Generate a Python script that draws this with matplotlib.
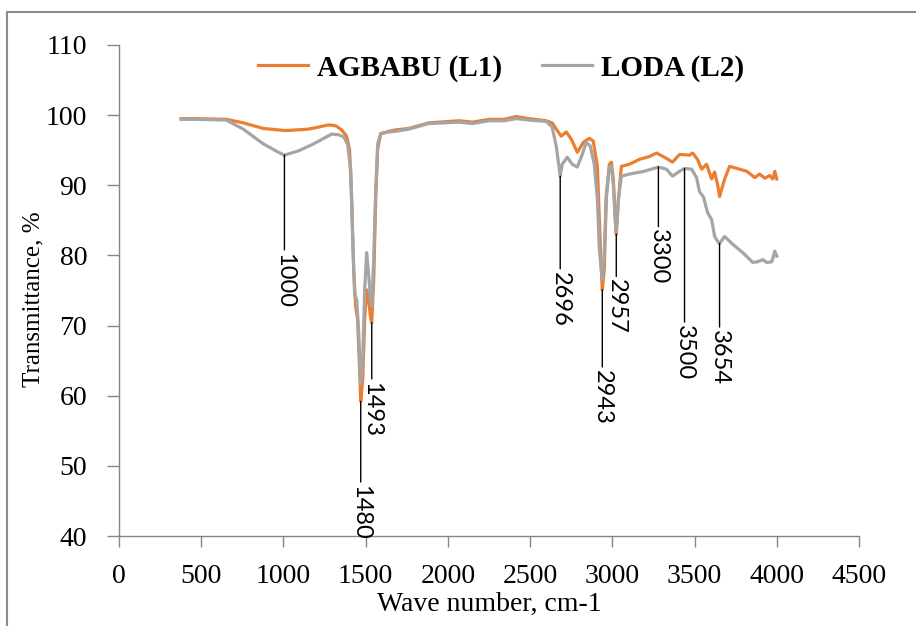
import numpy as np
import matplotlib
matplotlib.use('Agg')
import matplotlib.pyplot as plt
from matplotlib.patches import Rectangle

# FTIR spectra (wave number cm-1, transmittance %)
wave_l1 = [378, 482, 652, 756, 878, 1012, 1152, 1274, 1317, 1354, 1384, 1402, 1415, 1427, 1439,
           1451, 1463, 1470, 1482, 1494, 1506, 1518, 1530, 1537, 1549, 1561, 1573, 1591, 1640,
           1683, 1762, 1884, 2067, 2150, 2250, 2341, 2415, 2494, 2598, 2634, 2659, 2689, 2720,
           2750, 2787, 2823, 2860, 2884, 2909, 2921, 2933, 2939, 2951, 2963, 2982, 2994, 3006,
           3018, 3024, 3037, 3055, 3104, 3165, 3226, 3268, 3317, 3366, 3409, 3470, 3488, 3518,
           3543, 3573, 3604, 3622, 3640, 3652, 3683, 3713, 3774, 3817, 3866, 3896, 3927, 3957,
           3976, 3988, 4000]
trans_l1 = [99.5, 99.5, 99.4, 98.9, 98.1, 97.8, 98.0, 98.6, 98.5, 97.9, 97.0, 95.1, 88.0, 78.0, 72.7,
            70.9, 63.7, 59.2, 62.3, 70.9, 75.1, 73.7, 71.1, 70.4, 76.6, 88.0, 95.1, 97.3, 97.7,
            97.9, 98.1, 98.9, 99.2, 99.0, 99.4, 99.4, 99.8, 99.5, 99.2, 98.9, 98.0, 97.0, 97.6,
            96.6, 94.7, 96.1, 96.7, 96.3, 92.7, 85.1, 78.0, 75.1, 78.0, 88.0, 93.0, 93.3, 90.9,
            85.1, 83.0, 88.0, 92.7, 93.0, 93.7, 94.1, 94.6, 94.0, 93.3, 94.4, 94.3, 94.6, 93.7,
            92.3, 93.0, 90.9, 91.9, 90.1, 88.4, 90.9, 92.7, 92.3, 92.0, 91.1, 91.6, 91.0, 91.4,
            90.9, 92.0, 90.9]

wave_l2 = [378, 482, 652, 756, 878, 970, 1006, 1091, 1183, 1293, 1335, 1366, 1390, 1409, 1421,
           1433, 1445, 1457, 1470, 1482, 1494, 1506, 1518, 1530, 1537, 1549, 1561, 1573, 1591,
           1640, 1683, 1762, 1884, 2067, 2150, 2250, 2341, 2415, 2494, 2598, 2634, 2659, 2683,
           2695, 2726, 2756, 2787, 2817, 2841, 2866, 2890, 2909, 2921, 2939, 2951, 2963, 2982,
           2994, 3006, 3018, 3024, 3037, 3055, 3104, 3195, 3280, 3329, 3366, 3409, 3439, 3482,
           3512, 3530, 3555, 3579, 3604, 3622, 3640, 3652, 3683, 3732, 3793, 3854, 3884, 3915,
           3939, 3970, 3988, 4000]
trans_l2 = [99.4, 99.4, 99.3, 98.0, 95.9, 94.7, 94.3, 94.9, 95.9, 97.3, 97.2, 96.9, 95.9, 92.3, 82.3,
            74.4, 73.7, 69.4, 61.6, 65.3, 75.1, 80.4, 77.3, 73.7, 72.7, 79.4, 89.4, 95.9, 97.4,
            97.6, 97.7, 98.0, 98.8, 99.0, 98.8, 99.2, 99.2, 99.5, 99.3, 99.1, 98.3, 95.6, 91.3,
            93.0, 94.0, 93.0, 92.6, 94.4, 96.1, 95.6, 93.0, 88.0, 80.9, 76.6, 80.1, 88.7, 92.6,
            92.7, 90.1, 85.1, 83.4, 88.0, 91.3, 91.6, 92.0, 92.6, 92.3, 91.3, 92.0, 92.4, 92.3,
            91.1, 89.1, 88.3, 86.1, 85.1, 82.7, 82.0, 81.7, 82.7, 81.6, 80.4, 79.0, 79.1, 79.4,
            79.0, 79.1, 80.6, 79.9]

# peak labels: text, position, curve tip, top of text
peak_text = ['1000', '1480', '1493', '2696', '2943', '2957', '3300', '3500', '3654']
peak_x = [1006, 1470, 1537, 2683, 2939, 3024, 3280, 3439, 3652]
peak_tip = [94.3, 59.2, 70.4, 91.3, 75.1, 83.0, 92.6, 92.4, 81.7]
peak_txt_y = [80.4, 47.3, 62.0, 77.7, 63.7, 76.6, 83.7, 70.1, 69.4]

x_ticks = np.arange(0, 4501, 500)
y_ticks = np.arange(40, 111, 10)

orange = '#ED7D31'
grey = '#A5A5A5'
axcol = '#868686'

fig = plt.figure(figsize=(9.16, 6.26), dpi=100)
ax = fig.add_axes([119/916, (626-536)/626, 740/916, 491/626])

ax.plot(wave_l1, trans_l1, color=orange, lw=2.3, label='AGBABU (L1)', solid_joinstyle='round')
ax.plot(wave_l2, trans_l2, color=grey, lw=2.3, label='LODA (L2)', solid_joinstyle='round')

for t, x, y0, y1 in zip(peak_text, peak_x, peak_tip, peak_txt_y):
    ax.annotate(t, xy=(x, y0), xytext=(x, y1), rotation=-90, ha='center', va='top',
                fontsize=17, family='Lato', color='black',
                arrowprops=dict(arrowstyle='-', color='black', lw=1.0, shrinkA=0, shrinkB=0))

ax.set_xlim(0, 4500)
ax.set_ylim(40, 110)
ax.set_xticks(x_ticks)
ax.set_yticks(y_ticks)
for s in ['top', 'right']:
    ax.spines[s].set_visible(False)
for s in ['left', 'bottom']:
    ax.spines[s].set_color(axcol)
    ax.spines[s].set_linewidth(1.0)
ax.tick_params(axis='x', direction='out', length=8, width=1, color=axcol, pad=12,
               labelsize=20)
ax.tick_params(axis='y', direction='out', length=9, width=1, color=axcol, pad=14,
               labelsize=20)
for lab in ax.get_xticklabels() + ax.get_yticklabels():
    lab.set_family('Liberation Serif')

ax.set_xlabel('Wave number, cm-1', family='Liberation Serif', fontsize=20, va='center')
ax.xaxis.set_label_coords(0.501, -0.14)
ax.set_ylabel('Transmittance, %', family='Liberation Serif', fontsize=18, va='center')
ax.yaxis.set_label_coords(-0.116, 0.483)

ax.legend(loc='center', bbox_to_anchor=(0.547, 0.891), bbox_transform=fig.transFigure,
          ncol=2, frameon=False, handlelength=1.7, handletextpad=0.3, columnspacing=1.4,
          prop={'family': 'Liberation Serif', 'weight': 'bold', 'size': 21})

fig.patches.append(Rectangle((7/916, -0.1), 1.2, (626-12)/626 + 0.1, transform=fig.transFigure,
                             fill=False, edgecolor='#8C8C8C', lw=1.5, clip_on=False))

fig.savefig('out.png', dpi=100)
